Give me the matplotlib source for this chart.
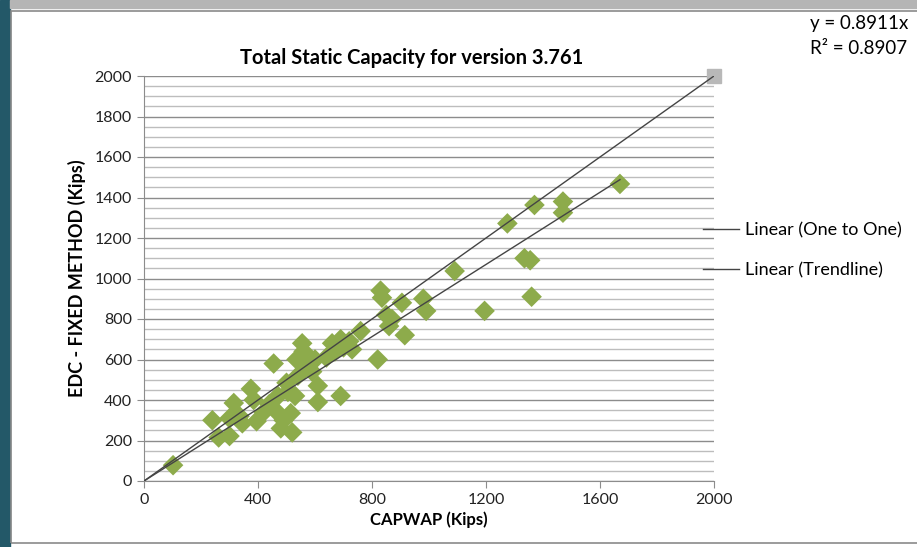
import matplotlib.pyplot as plt
from matplotlib.patches import Rectangle
from matplotlib.lines import Line2D
from matplotlib.ticker import MultipleLocator

plt.rcParams['font.family'] = ['Lato', 'DejaVu Sans']

# CAPWAP vs EDC (kips)
capwap = [102, 240, 262, 300, 315, 335, 300, 345, 375, 385, 395, 420, 440,
          455, 460, 470, 480, 490, 500, 505, 515, 520, 530, 535, 540, 555,
          560, 575, 590, 600, 610, 610, 640, 660, 670, 690, 690, 700, 720,
          730, 760, 820, 830, 835, 850, 860, 870, 905, 915, 980, 990, 1090,
          1195, 1275, 1335, 1355, 1360, 1370, 1470, 1470, 1670]
edc = [78, 300, 215, 222, 385, 320, 310, 285, 455, 400, 295, 340, 380,
       580, 350, 420, 260, 300, 485, 440, 335, 240, 420, 600, 520, 680,
       640, 560, 540, 600, 470, 390, 610, 680, 640, 420, 700, 660, 690,
       650, 740, 600, 940, 905, 820, 765, 800, 880, 720, 900, 840, 1037,
       840, 1272, 1100, 1090, 910, 1363, 1380, 1325, 1467]

one_x = [0, 2000]
one_y = [0, 2000]
slope = 0.8911
r2 = 0.8907

fig = plt.figure(figsize=(9.17, 5.47), dpi=100)
fig.patch.set_facecolor('white')

# slide frame bits
fig.patches.append(Rectangle((0, 0), 10 / 917, 1, transform=fig.transFigure,
                             color='#235868', zorder=0))
fig.patches.append(Rectangle((10 / 917, 1 - 8 / 547), 1, 8 / 547,
                             transform=fig.transFigure, color='#b5b5b5', zorder=0))
fig.patches.append(Rectangle((11 / 917, 4 / 547), 1, 1 - 15 / 547,
                             transform=fig.transFigure, fill=False,
                             edgecolor='#8a8a8a', lw=1.2, zorder=1))

ax = fig.add_axes([144 / 917, 1 - 481 / 547, 570 / 917, 405 / 547])
ax.set_xlim(0, 2000)
ax.set_ylim(0, 2000)

ax.yaxis.set_major_locator(MultipleLocator(200))
ax.yaxis.set_minor_locator(MultipleLocator(50))
ax.xaxis.set_major_locator(MultipleLocator(400))
ax.grid(axis='y', which='major', color='#8c8c8c', lw=1)
ax.grid(axis='y', which='minor', color='#bdbdbd', lw=1)
ax.set_axisbelow(True)

for s in ['top', 'right']:
    ax.spines[s].set_visible(False)
for s in ['left', 'bottom']:
    ax.spines[s].set_color('#8c8c8c')

ax.tick_params(axis='both', which='major', colors='#8c8c8c', labelcolor='#222222',
               labelsize=11.5, length=5)
ax.tick_params(axis='y', which='minor', length=0)

ax.scatter(capwap, edc, marker='D', s=110, color='#8dab4b', edgecolors='none',
           zorder=3)

# one to one series (only the far end marker shows) and its linear trendline
ax.plot(one_x, one_y, ls='none', marker='s', ms=10, color='#b8b8b8',
        markevery=[1], clip_on=False, zorder=3)
ax.plot(one_x, one_y, color='#444444', lw=1, zorder=4)
tx = [0, max(capwap)]
ax.plot(tx, [slope * v for v in tx], color='#444444', lw=1, zorder=4)

ax.set_title('Total Static Capacity for version 3.761', fontsize=14.5,
             fontweight='bold', pad=9, x=0.47)
ax.set_xlabel('CAPWAP (Kips)', fontsize=12, fontweight='bold', labelpad=3)
ax.set_ylabel('EDC - FIXED METHOD (Kips)', fontsize=13, fontweight='bold',
              labelpad=6)

fig.text(810 / 917, 1 - 24 / 547, 'y = %.4fx' % slope, fontsize=13.5,
         va='center', ha='left')
fig.text(810 / 917, 1 - 49 / 547, 'R² = %.4f' % r2, fontsize=13.5,
         va='center', ha='left')

handles = [Line2D([], [], color='#444444', lw=1),
           Line2D([], [], color='#444444', lw=1)]
fig.legend(handles, ['Linear (One to One)', 'Linear (Trendline)'],
           loc='upper left', bbox_to_anchor=(703 / 917, 1 - 222 / 547),
           frameon=False, fontsize=13, handlelength=2.0, handletextpad=0.3,
           labelspacing=1.35, borderpad=0, borderaxespad=0)

fig.savefig('out.png', dpi=100)
